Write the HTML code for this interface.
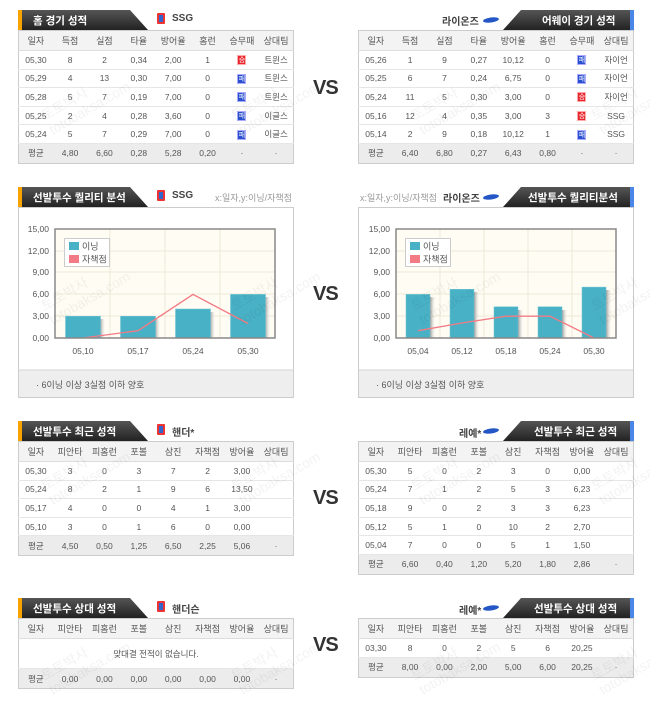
<!DOCTYPE html>
<html><head><meta charset="utf-8"><style>
*{margin:0;padding:0;box-sizing:border-box}
body{width:650px;height:711px;background:#fff;position:relative;overflow:hidden;font-family:"Liberation Sans","Noto Sans CJK KR",sans-serif;color:#555}
.a{position:absolute}
table{border-collapse:collapse;table-layout:fixed;position:absolute;font-size:8.5px;color:#555;border:1px solid #ccc;background:#fff}
td{text-align:center;border-bottom:1px solid #e6e6e6;padding:0;white-space:nowrap}
tr.h td{background:#f3f3f3;height:20px;border-bottom:1px solid #ddd;font-size:9px}
tr.f td{background:#ececec;height:20px;border-bottom:none}
tr.r td{height:18.6px}
.w{display:inline-block;width:9px;height:10px;line-height:10px;font-size:7px;color:#fff;background:#e8262e;border:1px solid #faa;vertical-align:middle}
.l{display:inline-block;width:9px;height:10px;line-height:10px;font-size:7px;color:#fff;background:#2a4fd0;border:1px solid #aaf;vertical-align:middle}
.tt{font-size:10.5px;font-weight:bold;fill:#fff}
.vs{position:absolute;font-size:20px;font-weight:bold;color:#333;letter-spacing:-1px}
.team{position:absolute;font-size:10px;font-weight:bold;color:#444}
.wm{position:absolute;color:rgba(0,0,0,0.05);font-size:14px;transform:rotate(-30deg);white-space:nowrap;line-height:16px}
</style></head><body>

<svg class="a" style="left:0;top:0" width="650" height="711">
<defs><linearGradient id="g" x1="0" y1="0" x2="0" y2="1"><stop offset="0" stop-color="#555"/><stop offset="1" stop-color="#222"/></linearGradient></defs>
<g>
<polygon points="18,10 130,10 148,30 18,30" fill="url(#g)"/><rect x="18" y="10" width="4" height="20" fill="#f7a400"/>
<text x="33" y="24" class="tt">홈 경기 성적</text>
<polygon points="521,10 634,10 634,30 503,30" fill="url(#g)"/><rect x="630" y="10" width="4" height="20" fill="#4a86e8"/>
<text x="542" y="24" class="tt">어웨이 경기 성적</text>

<polygon points="18,187 130,187 148,207 18,207" fill="url(#g)"/><rect x="18" y="187" width="4" height="20" fill="#f7a400"/>
<text x="33" y="201" class="tt">선발투수 퀄리티 분석</text>
<polygon points="521,187 634,187 634,207 503,207" fill="url(#g)"/><rect x="630" y="187" width="4" height="20" fill="#4a86e8"/>
<text x="528" y="201" class="tt">선발투수 퀄리티분석</text>

<polygon points="18,421 130,421 148,441 18,441" fill="url(#g)"/><rect x="18" y="421" width="4" height="20" fill="#f7a400"/>
<text x="33" y="435" class="tt">선발투수 최근 성적</text>
<polygon points="521,421 634,421 634,441 503,441" fill="url(#g)"/><rect x="630" y="421" width="4" height="20" fill="#4a86e8"/>
<text x="534" y="435" class="tt">선발투수 최근 성적</text>

<polygon points="18,598 130,598 148,618 18,618" fill="url(#g)"/><rect x="18" y="598" width="4" height="20" fill="#f7a400"/>
<text x="33" y="612" class="tt">선발투수 상대 성적</text>
<polygon points="521,598 634,598 634,618 503,618" fill="url(#g)"/><rect x="630" y="598" width="4" height="20" fill="#4a86e8"/>
<text x="534" y="612" class="tt">선발투수 상대 성적</text>
</g>
<g><rect x="157" y="13" width="8" height="11" rx="1" fill="#e33"/><rect x="159" y="15" width="4" height="7" fill="#36c"/></g>
<g><rect x="157" y="190" width="8" height="11" rx="1" fill="#e33"/><rect x="159" y="192" width="4" height="7" fill="#36c"/></g>
<g><rect x="157" y="424" width="8" height="11" rx="1" fill="#e33"/><rect x="159" y="426" width="4" height="7" fill="#36c"/></g>
<g><rect x="157" y="601" width="8" height="11" rx="1" fill="#e33"/><rect x="159" y="603" width="4" height="7" fill="#36c"/></g>
<ellipse cx="491" cy="20" rx="8" ry="2.5" fill="#2457c5" transform="rotate(-8 491 20)"/>
<ellipse cx="491" cy="197" rx="8" ry="2.5" fill="#2457c5" transform="rotate(-8 491 197)"/>
<ellipse cx="491" cy="431" rx="8" ry="2.5" fill="#2457c5" transform="rotate(-8 491 431)"/>
<ellipse cx="491" cy="608" rx="8" ry="2.5" fill="#2457c5" transform="rotate(-8 491 608)"/>
</svg>

<div class="team" style="left:172px;top:13px">SSG</div>
<div class="team" style="left:442px;top:13px">라이온즈</div>
<div class="team" style="left:172px;top:190px">SSG</div>
<div class="a" style="left:215px;top:191px;font-size:9px;color:#999">x:일자,y:이닝/자책점</div>
<div class="a" style="left:360px;top:191px;font-size:9px;color:#999">x:일자,y:이닝/자책점</div>
<div class="team" style="left:443px;top:190px">라이온즈</div>
<div class="team" style="left:172px;top:424px">핸더*</div>
<div class="team" style="left:459px;top:425px">레예*</div>
<div class="team" style="left:172px;top:601px">핸더슨</div>
<div class="team" style="left:459px;top:602px">레예*</div>

<div class="vs" style="left:313px;top:77px">VS</div>
<div class="vs" style="left:313px;top:283px">VS</div>
<div class="vs" style="left:313px;top:487px">VS</div>
<div class="vs" style="left:313px;top:634px">VS</div>

<table style="left:18px;top:30px;width:276px">
<tr class="h"><td>일자</td><td>득점</td><td>실점</td><td>타율</td><td>방어율</td><td>홈런</td><td>승무패</td><td>상대팀</td></tr>
<tr class="r"><td>05,30</td><td>8</td><td>2</td><td>0,34</td><td>2,00</td><td>1</td><td><span class="w">승</span></td><td>트윈스</td></tr>
<tr class="r"><td>05,29</td><td>4</td><td>13</td><td>0,30</td><td>7,00</td><td>0</td><td><span class="l">패</span></td><td>트윈스</td></tr>
<tr class="r"><td>05,28</td><td>5</td><td>7</td><td>0,19</td><td>7,00</td><td>0</td><td><span class="l">패</span></td><td>트윈스</td></tr>
<tr class="r"><td>05,25</td><td>2</td><td>4</td><td>0,28</td><td>3,60</td><td>0</td><td><span class="l">패</span></td><td>이글스</td></tr>
<tr class="r"><td>05,24</td><td>5</td><td>7</td><td>0,29</td><td>7,00</td><td>0</td><td><span class="l">패</span></td><td>이글스</td></tr>
<tr class="f"><td>평균</td><td>4,80</td><td>6,60</td><td>0,28</td><td>5,28</td><td>0,20</td><td>·</td><td>·</td></tr>
</table>
<table style="left:358px;top:30px;width:276px">
<tr class="h"><td>일자</td><td>득점</td><td>실점</td><td>타율</td><td>방어율</td><td>홈런</td><td>승무패</td><td>상대팀</td></tr>
<tr class="r"><td>05,26</td><td>1</td><td>9</td><td>0,27</td><td>10,12</td><td>0</td><td><span class="l">패</span></td><td>자이언</td></tr>
<tr class="r"><td>05,25</td><td>6</td><td>7</td><td>0,24</td><td>6,75</td><td>0</td><td><span class="l">패</span></td><td>자이언</td></tr>
<tr class="r"><td>05,24</td><td>11</td><td>5</td><td>0,30</td><td>3,00</td><td>0</td><td><span class="w">승</span></td><td>자이언</td></tr>
<tr class="r"><td>05,16</td><td>12</td><td>4</td><td>0,35</td><td>3,00</td><td>3</td><td><span class="w">승</span></td><td>SSG</td></tr>
<tr class="r"><td>05,14</td><td>2</td><td>9</td><td>0,18</td><td>10,12</td><td>1</td><td><span class="l">패</span></td><td>SSG</td></tr>
<tr class="f"><td>평균</td><td>6,40</td><td>6,80</td><td>0,27</td><td>6,43</td><td>0,80</td><td>·</td><td>·</td></tr>
</table>

<svg class="a" style="left:0;top:0" width="650" height="400" font-family="Liberation Sans, sans-serif">
<defs><linearGradient id="sh" x1="0" x2="1"><stop offset="0" stop-color="#999"/><stop offset="1" stop-color="#ddd" stop-opacity="0"/></linearGradient></defs>
<rect x="18.5" y="207.5" width="275" height="190" fill="#fff" stroke="#ccc"/>
<rect x="19" y="370" width="274" height="27" fill="#eee"/><line x1="19" y1="370" x2="293" y2="370" stroke="#d5d5d5"/>
<rect x="358.5" y="207.5" width="275" height="190" fill="#fff" stroke="#ccc"/>
<rect x="359" y="370" width="274" height="27" fill="#eee"/><line x1="359" y1="370" x2="633" y2="370" stroke="#d5d5d5"/>
<text x="36" y="388" font-size="9" fill="#555">·  6이닝 이상 3실점 이하 양호</text>
<text x="376" y="388" font-size="9" fill="#555">·  6이닝 이상 3실점 이하 양호</text>

<rect x="55" y="229" width="220" height="109" fill="#fffcf3"/>
<g stroke="#eee8d8" stroke-width="1">
<line x1="55" y1="251" x2="275" y2="251"/><line x1="55" y1="272" x2="275" y2="272"/><line x1="55" y1="294" x2="275" y2="294"/><line x1="55" y1="316" x2="275" y2="316"/>
<line x1="110" y1="229" x2="110" y2="338"/><line x1="165" y1="229" x2="165" y2="338"/><line x1="220" y1="229" x2="220" y2="338"/>
</g>
<g fill="url(#sh)"><rect x="100" y="319" width="5" height="19"/><rect x="155" y="319" width="5" height="19"/><rect x="210" y="312" width="5" height="26"/><rect x="265" y="297" width="5" height="41"/></g>
<g fill="#48b1c5" stroke="#6cc4d4" stroke-width="0.5"><rect x="65.5" y="316.2" width="35" height="21.8"/><rect x="120.5" y="316.2" width="35" height="21.8"/><rect x="175.5" y="309" width="35" height="29"/><rect x="230.5" y="294.4" width="35" height="43.6"/></g>
<polyline points="83,338 138,330.7 193,294.4 248,323.5" fill="none" stroke="#f37b85" stroke-width="1.3"/>
<rect x="55" y="229" width="220" height="109" fill="none" stroke="#888" stroke-width="1.5"/>
<g font-size="8.5" fill="#555" text-anchor="end"><text x="49" y="232">15,00</text><text x="49" y="254">12,00</text><text x="49" y="275">9,00</text><text x="49" y="297">6,00</text><text x="49" y="319">3,00</text><text x="49" y="341">0,00</text></g>
<g font-size="8.5" fill="#555" text-anchor="middle"><text x="83" y="354">05,10</text><text x="138" y="354">05,17</text><text x="193" y="354">05,24</text><text x="248" y="354">05,30</text></g>
<rect x="64.5" y="238.5" width="45" height="28" fill="#fff" stroke="#ccc"/>
<rect x="69" y="242" width="10" height="8" fill="#48b1c5"/><text x="82" y="249.5" font-size="9" fill="#555">이닝</text>
<rect x="69" y="255" width="10" height="8" fill="#f37b85"/><text x="82" y="262.5" font-size="9" fill="#555">자책점</text>

<rect x="396" y="229" width="220" height="109" fill="#fffcf3"/>
<g stroke="#eee8d8" stroke-width="1">
<line x1="396" y1="251" x2="616" y2="251"/><line x1="396" y1="272" x2="616" y2="272"/><line x1="396" y1="294" x2="616" y2="294"/><line x1="396" y1="316" x2="616" y2="316"/>
<line x1="440" y1="229" x2="440" y2="338"/><line x1="484" y1="229" x2="484" y2="338"/><line x1="528" y1="229" x2="528" y2="338"/><line x1="572" y1="229" x2="572" y2="338"/>
</g>
<g fill="url(#sh)"><rect x="430" y="297" width="5" height="41"/><rect x="474" y="292" width="5" height="46"/><rect x="518" y="310" width="5" height="28"/><rect x="562" y="310" width="5" height="28"/><rect x="606" y="290" width="5" height="48"/></g>
<g fill="#48b1c5" stroke="#6cc4d4" stroke-width="0.5"><rect x="406" y="294.4" width="24" height="43.6"/><rect x="450" y="289.3" width="24" height="48.7"/><rect x="494" y="306.8" width="24" height="31.2"/><rect x="538" y="306.8" width="24" height="31.2"/><rect x="582" y="287.1" width="24" height="50.9"/></g>
<polyline points="418,330.7 462,323 506,316.2 550,316.2 594,338" fill="none" stroke="#f37b85" stroke-width="1.3"/>
<rect x="396" y="229" width="220" height="109" fill="none" stroke="#888" stroke-width="1.5"/>
<g font-size="8.5" fill="#555" text-anchor="end"><text x="390" y="232">15,00</text><text x="390" y="254">12,00</text><text x="390" y="275">9,00</text><text x="390" y="297">6,00</text><text x="390" y="319">3,00</text><text x="390" y="341">0,00</text></g>
<g font-size="8.5" fill="#555" text-anchor="middle"><text x="418" y="354">05,04</text><text x="462" y="354">05,12</text><text x="506" y="354">05,18</text><text x="550" y="354">05,24</text><text x="594" y="354">05,30</text></g>
<rect x="405.5" y="238.5" width="45" height="28" fill="#fff" stroke="#ccc"/>
<rect x="410" y="242" width="10" height="8" fill="#48b1c5"/><text x="423" y="249.5" font-size="9" fill="#555">이닝</text>
<rect x="410" y="255" width="10" height="8" fill="#f37b85"/><text x="423" y="262.5" font-size="9" fill="#555">자책점</text>
</svg>

<table style="left:18px;top:441px;width:276px">
<tr class="h"><td>일자</td><td>피안타</td><td>피홈런</td><td>포볼</td><td>삼진</td><td>자책점</td><td>방어율</td><td>상대팀</td></tr>
<tr class="r"><td>05,30</td><td>3</td><td>0</td><td>3</td><td>7</td><td>2</td><td>3,00</td><td></td></tr>
<tr class="r"><td>05,24</td><td>8</td><td>2</td><td>1</td><td>9</td><td>6</td><td>13,50</td><td></td></tr>
<tr class="r"><td>05,17</td><td>4</td><td>0</td><td>0</td><td>4</td><td>1</td><td>3,00</td><td></td></tr>
<tr class="r"><td>05,10</td><td>3</td><td>0</td><td>1</td><td>6</td><td>0</td><td>0,00</td><td></td></tr>
<tr class="f"><td>평균</td><td>4,50</td><td>0,50</td><td>1,25</td><td>6,50</td><td>2,25</td><td>5,06</td><td>·</td></tr>
</table>
<table style="left:358px;top:441px;width:276px">
<tr class="h"><td>일자</td><td>피안타</td><td>피홈런</td><td>포볼</td><td>삼진</td><td>자책점</td><td>방어율</td><td>상대팀</td></tr>
<tr class="r"><td>05,30</td><td>5</td><td>0</td><td>2</td><td>3</td><td>0</td><td>0,00</td><td></td></tr>
<tr class="r"><td>05,24</td><td>7</td><td>1</td><td>2</td><td>5</td><td>3</td><td>6,23</td><td></td></tr>
<tr class="r"><td>05,18</td><td>9</td><td>0</td><td>2</td><td>3</td><td>3</td><td>6,23</td><td></td></tr>
<tr class="r"><td>05,12</td><td>5</td><td>1</td><td>0</td><td>10</td><td>2</td><td>2,70</td><td></td></tr>
<tr class="r"><td>05,04</td><td>7</td><td>0</td><td>0</td><td>5</td><td>1</td><td>1,50</td><td></td></tr>
<tr class="f"><td>평균</td><td>6,60</td><td>0,40</td><td>1,20</td><td>5,20</td><td>1,80</td><td>2,86</td><td>·</td></tr>
</table>

<table style="left:18px;top:618px;width:276px">
<tr class="h"><td>일자</td><td>피안타</td><td>피홈런</td><td>포볼</td><td>삼진</td><td>자책점</td><td>방어율</td><td>상대팀</td></tr>
<tr><td colspan="8" style="height:30px">맞대결 전적이 없습니다.</td></tr>
<tr class="f"><td>평균</td><td>0,00</td><td>0,00</td><td>0,00</td><td>0,00</td><td>0,00</td><td>0,00</td><td>·</td></tr>
</table>
<table style="left:358px;top:618px;width:276px">
<tr class="h"><td>일자</td><td>피안타</td><td>피홈런</td><td>포볼</td><td>삼진</td><td>자책점</td><td>방어율</td><td>상대팀</td></tr>
<tr class="r"><td>03,30</td><td>8</td><td>0</td><td>2</td><td>5</td><td>6</td><td>20,25</td><td></td></tr>
<tr class="f"><td>평균</td><td>8,00</td><td>0,00</td><td>2,00</td><td>5,00</td><td>6,00</td><td>20,25</td><td>·</td></tr>
</table>

<div class="wm" style="left:40px;top:85px">토토박사<br>totobaksa.com</div>
<div class="wm" style="left:230px;top:85px">토토박사<br>totobaksa.com</div>
<div class="wm" style="left:410px;top:85px">토토박사<br>totobaksa.com</div>
<div class="wm" style="left:590px;top:85px">토토박사<br>totobaksa.com</div>
<div class="wm" style="left:40px;top:275px">토토박사<br>totobaksa.com</div>
<div class="wm" style="left:230px;top:275px">토토박사<br>totobaksa.com</div>
<div class="wm" style="left:410px;top:275px">토토박사<br>totobaksa.com</div>
<div class="wm" style="left:590px;top:275px">토토박사<br>totobaksa.com</div>
<div class="wm" style="left:40px;top:455px">토토박사<br>totobaksa.com</div>
<div class="wm" style="left:230px;top:455px">토토박사<br>totobaksa.com</div>
<div class="wm" style="left:410px;top:455px">토토박사<br>totobaksa.com</div>
<div class="wm" style="left:590px;top:455px">토토박사<br>totobaksa.com</div>
<div class="wm" style="left:40px;top:645px">토토박사<br>totobaksa.com</div>
<div class="wm" style="left:230px;top:645px">토토박사<br>totobaksa.com</div>
<div class="wm" style="left:410px;top:645px">토토박사<br>totobaksa.com</div>
<div class="wm" style="left:590px;top:645px">토토박사<br>totobaksa.com</div>
</body></html>
